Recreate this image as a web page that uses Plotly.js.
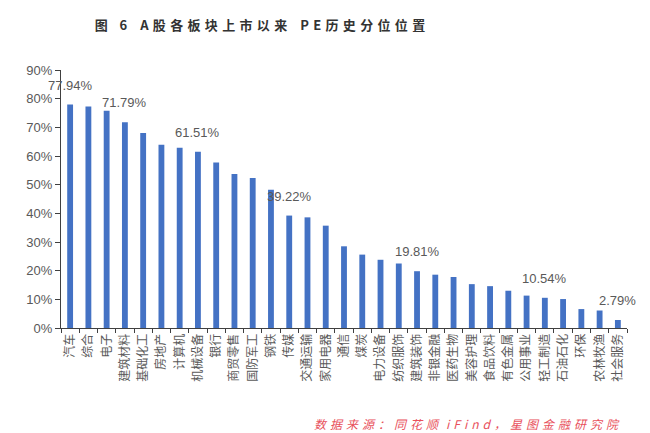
<!DOCTYPE html>
<html>
<head>
<meta charset="utf-8">
<script src="https://cdn.plot.ly/plotly-3.0.1.min.js"></script>
<style>
html,body{margin:0;padding:0;background:#fff;}
#chart{width:650px;height:433px;}
</style>
</head>
<body>
<div id="chart"></div>
<script>
// Data
const categories = ["汽车","综合","电子","建筑材料","基础化工","房地产","计算机","机械设备","银行","商贸零售","国防军工","钢铁","传媒","交通运输","家用电器","通信","煤炭","电力设备","纺织服饰","建筑装饰","非银金融","医药生物","美容护理","食品饮料","有色金属","公用事业","轻工制造","石油石化","环保","农林牧渔","社会服务"];
const peValues = [77.94,77.3,75.8,71.79,68.0,63.9,62.9,61.51,57.7,53.7,52.3,48.2,39.22,38.6,35.7,28.5,25.6,23.8,22.5,19.81,18.6,17.8,15.3,14.6,13.0,11.3,10.54,10.1,6.6,6.1,2.79];
const labeledIndices = [0,3,7,12,19,26,30];
const titleParts = ["图 6", "A股各板块上市以来", "PE历史分位位置"];
const sourceParts = ["数据来源：同花顺", "iFind，星图金融研究院"];

const SP = "\u2004";
function spaced(s) { return Array.from(s).join(SP); }
const titleText = titleParts.map(spaced).join(SP + SP + SP);
const sourceText = sourceParts.map(spaced).join(SP + SP);

const cjk = "'Noto Sans CJK SC', 'Noto Sans', sans-serif";
const latin = "'Liberation Sans', Arial, 'Noto Sans CJK SC', sans-serif";

const trace = {
  type: 'bar',
  x: categories,
  y: peValues,
  marker: {color: '#4472C4'},
  hoverinfo: 'skip'
};

const annotations = labeledIndices.map(i => ({
  x: categories[i],
  y: peValues[i],
  xref: 'x', yref: 'y',
  text: peValues[i].toFixed(2) + '%',
  showarrow: false,
  yanchor: 'bottom',
  yshift: 10,
  font: {family: latin, size: 13, color: '#595959'}
}));

// source note (paper coords: plot area spans x 61..627, y 70..328)
annotations.push({
  x: (622 - 61) / 566, y: (328.3 - 424) / 258.3,
  xref: 'paper', yref: 'paper',
  text: '<i>' + sourceText + '</i>', showarrow: false,
  xanchor: 'right', yanchor: 'middle',
  font: {family: cjk, size: 12, color: '#e8505b'}
});

const layout = {
  width: 650, height: 433,
  margin: {l: 61, r: 23, t: 70, b: 105},
  paper_bgcolor: '#ffffff',
  plot_bgcolor: '#ffffff',
  bargap: 0.68,
  showlegend: false,
  title: {
    text: '<b>' + titleText + '</b>',
    x: 260/650, xanchor: 'center', xref: 'container',
    y: 1 - 25/433, yanchor: 'middle', yref: 'container',
    font: {family: cjk, size: 13, color: '#333333'}
  },
  xaxis: {
    type: 'category',
    range: [-0.5, categories.length - 0.5],
    autorange: false,
    tickangle: -90,
    ticks: 'outside', tickson: 'boundaries', ticklen: 4,
    tickcolor: '#404040',
    showline: true, linecolor: '#404040', linewidth: 1,
    showgrid: false, zeroline: false,
    automargin: false,
    tickfont: {family: cjk, size: 12, color: '#595959'},
    fixedrange: true
  },
  yaxis: {
    range: [0, 90], dtick: 10, ticksuffix: '%',
    autorange: false,
    ticks: 'outside', ticklen: 5, tickcolor: '#404040',
    showline: true, linecolor: '#404040', linewidth: 1,
    showgrid: false, zeroline: false,
    automargin: false,
    tickfont: {family: latin, size: 13, color: '#595959'},
    fixedrange: true
  },
  annotations: annotations
};

Plotly.newPlot('chart', [trace], layout, {displayModeBar: false, staticPlot: true});
</script>
</body>
</html>
